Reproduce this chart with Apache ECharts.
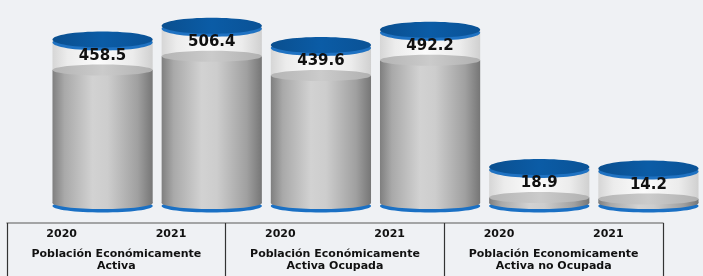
<!DOCTYPE html>
<html><head><meta charset="utf-8">
<script src="https://cdn.jsdelivr.net/npm/echarts@6/dist/echarts.min.js"></script>
<style>html,body{margin:0;padding:0;background:#eff1f4}#c{width:703px;height:276px}</style>
</head><body><div id="c"></div>
<script>
const years = ['2020','2021','2020','2021','2020','2021'];
const groups = ['Población Económicamente\nActiva','Población Económicamente\nActiva Ocupada','Población Economicamente\nActiva no Ocupada'];
const values = [458.5, 506.4, 439.6, 492.2, 18.9, 14.2];
const glassExtra = [105, 105, 105, 105, 105, 105];

const chart = echarts.init(document.getElementById('c'));
const FONT = 'DejaVu Sans';

function grad(stops){
  return new echarts.graphic.LinearGradient(0,0,1,0,stops.map((c,i)=>({offset:c[0],color:c[1]})));
}

chart.setOption({
  backgroundColor:'#eff1f4',
  animation:false,
  grid:[
    {left:48, width:656.5, top:29, bottom:73},
    {left:7, right:40, top:200, height:23}
  ],
  xAxis:[
    {type:'category', gridIndex:0, data:years.map((y,i)=>i), show:false},
    {type:'category', gridIndex:1, data:years, position:'bottom',
     axisLine:{show:true, lineStyle:{color:'#8a8a8a', width:1.5}},
     axisTick:{show:false},
     axisLabel:{margin:6, color:'#111', fontFamily:FONT, fontWeight:'bold', fontSize:11}},
    {type:'category', gridIndex:1, data:groups, position:'bottom',
     axisLine:{show:false},
     axisTick:{show:true, length:55, lineStyle:{color:'#333', width:1.2}},
     axisLabel:{margin:25, color:'#111', fontFamily:FONT, fontWeight:'bold', fontSize:11, lineHeight:12, interval:0}}
  ],
  yAxis:[
    {type:'value', gridIndex:0, min:0, max:600, show:false},
    {type:'value', gridIndex:1, show:false}
  ],
  series:[{
    type:'custom',
    xAxisIndex:0, yAxisIndex:0,
    data: values.map((v,i)=>[i, v, glassExtra[i]]),
    renderItem(params, api){
      const i = api.value(0), v = api.value(1), extra = api.value(2);
      const base = api.coord([i, 0]);
      const top = api.coord([i, v]);
      const capTop = api.coord([i, v + extra]);
      const w = api.size([1, 0])[0] * 0.918;
      const cx = base[0], x0 = cx - w/2, rx = w/2;
      const grayGrad = grad([[0,'#7f7f7f'],[0.12,'#a9a9a9'],[0.4,'#d2d2d2'],[0.55,'#cdcdcd'],[0.85,'#a0a0a0'],[1,'#767676']]);
      const glassGrad = grad([[0,'#d6d6d6'],[0.15,'#ececec'],[0.45,'#fbfbfb'],[0.8,'#ececec'],[1,'#d0d0d0']]);
      const children = [
        {type:'ellipse', shape:{cx:cx, cy:base[1]+3, rx:rx, ry:6.5}, style:{fill:'#1a70c4'}},
        {type:'ellipse', shape:{cx:cx, cy:base[1], rx:rx, ry:6}, style:{fill:grayGrad}},
        {type:'rect', shape:{x:x0, y:top[1], width:w, height:Math.max(0, base[1]-top[1])}, style:{fill:grayGrad}},
        {type:'rect', shape:{x:x0, y:capTop[1], width:w, height:top[1]-capTop[1]}, style:{fill:glassGrad}},
        {type:'ellipse', shape:{cx:cx, cy:top[1], rx:rx, ry:5.5}, style:{fill:grad([[0,'#b4b4b4'],[0.5,'#cbcbcb'],[1,'#b0b0b0']])}},
        {type:'ellipse', shape:{cx:cx, cy:capTop[1]+3, rx:rx, ry:8}, style:{fill:'#1f72c2'}},
        {type:'ellipse', shape:{cx:cx, cy:capTop[1], rx:rx, ry:8}, style:{fill:grad([[0,'#0a4f8f'],[0.5,'#0b5ca6'],[1,'#0a5296']])}},
        {type:'text', style:{x:cx, y:(top[1]+capTop[1])/2+1, text:String(v), align:'center', verticalAlign:'middle',
          font:'bold 15px "DejaVu Sans"', fill:'#111'}}
      ];
      return {type:'group', children};
    }
  }]
});
</script></body></html>
